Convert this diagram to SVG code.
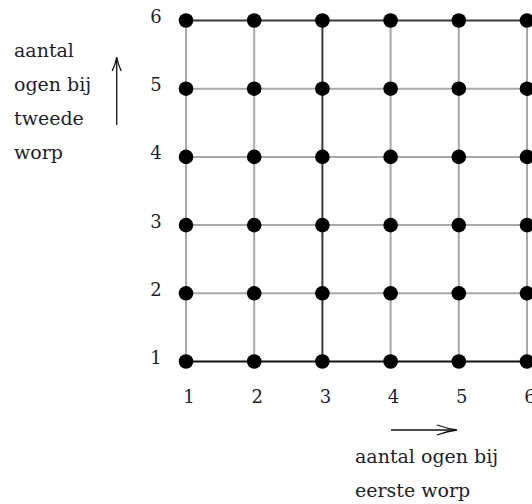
<svg xmlns="http://www.w3.org/2000/svg" width="532" height="504" viewBox="0 0 532 504">
<style>
text{font-family:"DejaVu Serif","Liberation Serif",serif;fill:#1e1e2a}
.lbl{font-size:18px;text-anchor:middle}
.cap{font-size:19px}
.g{stroke:#a8a8a8;stroke-width:2;fill:none}
.d{stroke:#3a3a3a;stroke-width:2;fill:none}
.k{stroke:#111;stroke-width:1.8;fill:none}
.ar{stroke:#111;stroke-width:1.3;fill:none}
circle{fill:#000}
</style>
<rect width="532" height="504" fill="#fff"/>
<g id="connectors">
<line class="g" x1="186" y1="88.7" x2="527" y2="88.7"/>
<line class="g" x1="186" y1="156.9" x2="527" y2="156.9"/>
<line class="g" x1="186" y1="225.1" x2="527" y2="225.1"/>
<line class="g" x1="186" y1="293.3" x2="527" y2="293.3"/>
<line class="g" x1="186" y1="20.5" x2="186" y2="361.5"/>
<line class="g" x1="254.2" y1="20.5" x2="254.2" y2="361.5"/>
<line class="g" x1="390.6" y1="20.5" x2="390.6" y2="361.5"/>
<line class="g" x1="458.8" y1="20.5" x2="458.8" y2="361.5"/>
<line class="g" x1="527" y1="20.5" x2="527" y2="361.5"/>
<line class="d" x1="322.4" y1="20.5" x2="322.4" y2="361.5"/>
<line class="d" x1="186" y1="20.5" x2="527" y2="20.5"/>
<line class="k" x1="186" y1="361.5" x2="527" y2="361.5"/>
</g>
<g id="nodes">
<g id="n1-6"><circle cx="186" cy="20.5" r="7.3"/></g>
<g id="n2-6"><circle cx="254.2" cy="20.5" r="7.3"/></g>
<g id="n3-6"><circle cx="322.4" cy="20.5" r="7.3"/></g>
<g id="n4-6"><circle cx="390.6" cy="20.5" r="7.3"/></g>
<g id="n5-6"><circle cx="458.8" cy="20.5" r="7.3"/></g>
<g id="n6-6"><circle cx="527" cy="20.5" r="7.3"/></g>
<g id="n1-5"><circle cx="186" cy="88.7" r="7.3"/></g>
<g id="n2-5"><circle cx="254.2" cy="88.7" r="7.3"/></g>
<g id="n3-5"><circle cx="322.4" cy="88.7" r="7.3"/></g>
<g id="n4-5"><circle cx="390.6" cy="88.7" r="7.3"/></g>
<g id="n5-5"><circle cx="458.8" cy="88.7" r="7.3"/></g>
<g id="n6-5"><circle cx="527" cy="88.7" r="7.3"/></g>
<g id="n1-4"><circle cx="186" cy="156.9" r="7.3"/></g>
<g id="n2-4"><circle cx="254.2" cy="156.9" r="7.3"/></g>
<g id="n3-4"><circle cx="322.4" cy="156.9" r="7.3"/></g>
<g id="n4-4"><circle cx="390.6" cy="156.9" r="7.3"/></g>
<g id="n5-4"><circle cx="458.8" cy="156.9" r="7.3"/></g>
<g id="n6-4"><circle cx="527" cy="156.9" r="7.3"/></g>
<g id="n1-3"><circle cx="186" cy="225.1" r="7.3"/></g>
<g id="n2-3"><circle cx="254.2" cy="225.1" r="7.3"/></g>
<g id="n3-3"><circle cx="322.4" cy="225.1" r="7.3"/></g>
<g id="n4-3"><circle cx="390.6" cy="225.1" r="7.3"/></g>
<g id="n5-3"><circle cx="458.8" cy="225.1" r="7.3"/></g>
<g id="n6-3"><circle cx="527" cy="225.1" r="7.3"/></g>
<g id="n1-2"><circle cx="186" cy="293.3" r="7.3"/></g>
<g id="n2-2"><circle cx="254.2" cy="293.3" r="7.3"/></g>
<g id="n3-2"><circle cx="322.4" cy="293.3" r="7.3"/></g>
<g id="n4-2"><circle cx="390.6" cy="293.3" r="7.3"/></g>
<g id="n5-2"><circle cx="458.8" cy="293.3" r="7.3"/></g>
<g id="n6-2"><circle cx="527" cy="293.3" r="7.3"/></g>
<g id="n1-1"><circle cx="186" cy="361.5" r="7.3"/></g>
<g id="n2-1"><circle cx="254.2" cy="361.5" r="7.3"/></g>
<g id="n3-1"><circle cx="322.4" cy="361.5" r="7.3"/></g>
<g id="n4-1"><circle cx="390.6" cy="361.5" r="7.3"/></g>
<g id="n5-1"><circle cx="458.8" cy="361.5" r="7.3"/></g>
<g id="n6-1"><circle cx="527" cy="361.5" r="7.3"/></g>
</g>
<g id="row-labels">
<text class="lbl" x="156" y="23">6</text>
<text class="lbl" x="156" y="91.2">5</text>
<text class="lbl" x="156" y="159.4">4</text>
<text class="lbl" x="156" y="227.6">3</text>
<text class="lbl" x="156" y="295.8">2</text>
<text class="lbl" x="156" y="364">1</text>
</g>
<g id="col-labels">
<text class="lbl" x="189" y="403">1</text>
<text class="lbl" x="257.2" y="403">2</text>
<text class="lbl" x="325.4" y="403">3</text>
<text class="lbl" x="393.6" y="403">4</text>
<text class="lbl" x="461.8" y="403">5</text>
<text class="lbl" x="530" y="403">6</text>
</g>
<g id="y-axis-caption">
<text class="cap" x="14" y="57">aantal</text>
<text class="cap" x="14" y="91">ogen bij</text>
<text class="cap" x="14" y="125">tweede</text>
<text class="cap" x="14" y="159">worp</text>
<line class="ar" x1="116.7" y1="125" x2="116.7" y2="58"/>
<path class="ar" d="M112.2,71 Q115.5,64 116.7,57 Q117.9,64 121.2,71"/>
</g>
<g id="x-axis-caption">
<line class="ar" x1="391" y1="430" x2="456" y2="430"/>
<path class="ar" d="M437,425 Q448,428.8 457,430 Q448,431.2 437,435"/>
<text class="cap" x="355" y="463">aantal ogen bij</text>
<text class="cap" x="355" y="497">eerste worp</text>
</g>
</svg>
